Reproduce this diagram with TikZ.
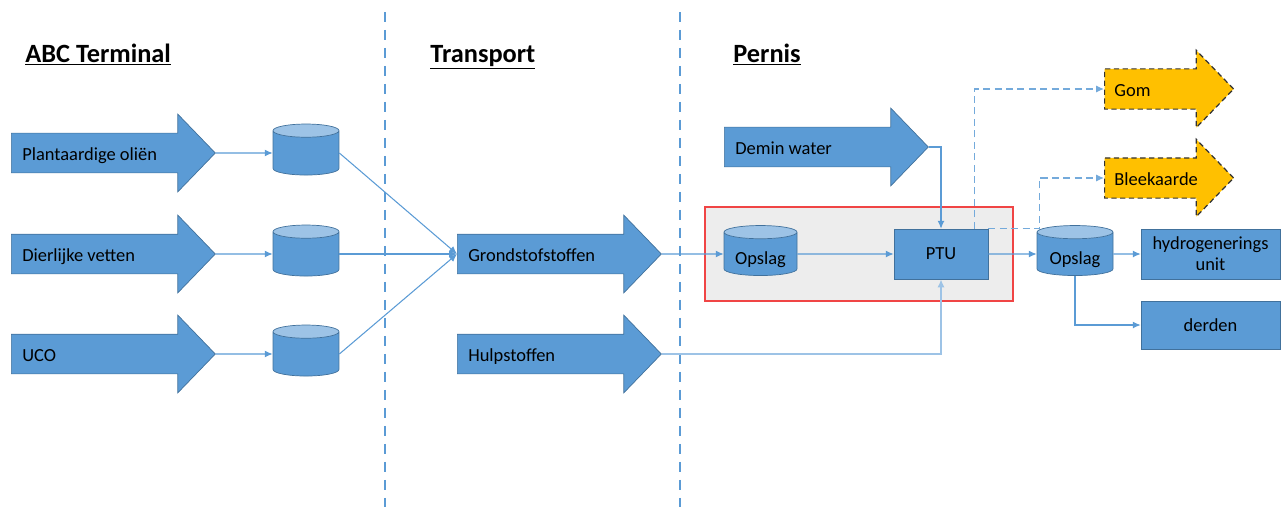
\documentclass[tikz,border=0pt]{standalone}
\usepackage{fontspec}
\setmainfont{Carlito}
\usetikzlibrary{shapes.arrows,shapes.geometric,arrows.meta}

\definecolor{flowblue}{HTML}{5B9BD5}
\definecolor{flowedge}{HTML}{41719C}
\definecolor{flowlight}{HTML}{9DC3E6}
\definecolor{flowgold}{HTML}{FFC000}
\definecolor{boxgray}{HTML}{EDEDED}
\definecolor{boxred}{HTML}{F04545}

\tikzset{
  header/.style={anchor=base west, inner sep=0pt, font=\fontsize{15}{18}\selectfont\bfseries},
  bigarrow/.style={single arrow, draw=flowedge, fill=flowblue, line width=0.4pt,
    single arrow head extend=0.38cm, single arrow tip angle=92,
    minimum width=1.54cm, minimum height=4.08cm, text width=3.26cm, align=flush left,
    inner xsep=0.04cm, inner ysep=6.5pt, text height=8.6pt, text depth=0.6pt, anchor=tail},
  sidearrow/.style={bigarrow, draw=black!80, fill=flowgold, line width=0.7pt,
    dash pattern=on 3pt off 2pt, single arrow head extend=0.37cm,
    minimum width=1.5cm, minimum height=2.58cm, text width=1.8cm},
  tank/.style={cylinder, shape border rotate=90, aspect=0.22, draw=flowedge,
    cylinder uses custom fill, cylinder body fill=flowblue, cylinder end fill=flowlight,
    line width=0.4pt, inner sep=0pt, text width=1.2cm, text height=14pt, align=flush center},
  unitbox/.style={rectangle, draw=flowedge, fill=flowblue, line width=0.4pt,
    align=flush center, inner sep=0pt},
  conn/.style={->, flowblue, line width=0.6pt},
  dashconn/.style={conn, flowblue!85, dash pattern=on 4pt off 2.5pt},
  divider/.style={flowblue, line width=1.2pt, dash pattern=on 0.2cm off 0.16cm}
}

\begin{document}
\begin{tikzpicture}[x=0.02cm,y=-0.02cm,>={Latex[length=4.5pt,width=4pt]},
    font=\fontsize{10.5}{12}\selectfont]
  \useasboundingbox (0,0) rectangle (1284,507);

  % section headers
  \node[header] (habc) at (25,62) {\underline{ABC Terminal}};
  \node[header] (htrans) at (430,62) {\underline{Transport}};
  \node[header] (hpernis) at (733,62) {\underline{Pernis}};

  % dashed dividers
  \draw[divider] (385,12) -- (385,507);
  \draw[divider] (680,12) -- (680,507);

  % transport arrows
  \node[bigarrow] (grond) at (457,254) {Grondstofstoffen};
  \node[bigarrow] (hulp) at (457,354) {Hulpstoffen};

  % raw materials into the tanks
  \foreach \y/\name/\txt in {153/plant/Plantaardige oliën,254/dier/Dierlijke vetten,354/uco/UCO} {
    \node[bigarrow] (\name) at (11,\y) {\txt};
    \node[tank, minimum width=1.32cm, minimum height=1.02cm] (t\name) at (306,\y) {};
    \draw[conn] (\name.tip) -- (t\name);
    \draw[conn] (t\name.0) -- (grond.tail);
  }

  % pretreatment area
  \node[draw=boxred, fill=boxgray, line width=0.8pt, minimum width=6.16cm,
    minimum height=1.88cm, inner sep=0pt] (area) at (859,254) {};
  \node[tank, minimum width=1.46cm, minimum height=1.0cm] (opslaga) at (760.5,254) {Opslag};
  \node[unitbox, minimum width=1.88cm, minimum height=1.0cm] (ptu) at (941,254) {PTU};

  % pernis inputs and outputs
  \node[bigarrow] (demin) at (724,147) {Demin water};
  \node[sidearrow] (gom) at (1104,89) {Gom};
  \node[sidearrow] (bleek) at (1104,178) {Bleekaarde};
  \node[tank, minimum width=1.52cm, minimum height=1.0cm] (opslagb) at (1075,254) {Opslag};
  \node[unitbox, minimum width=2.78cm, minimum height=1.0cm] (hydro) at (1210.5,254) {hydrogenerings\\unit};
  \node[unitbox, minimum width=2.78cm, minimum height=0.96cm] (derden) at (1210.5,325) {derden};

  % connectors
  \draw[conn] (grond.tip) -- (opslaga);
  \draw[conn] (opslaga) -- (ptu);
  \draw[conn] (ptu) -- (opslagb);
  \draw[conn] (opslagb) -- (hydro);
  \draw[conn] (opslagb.270) |- (derden);
  \draw[conn] (demin.tip) -| (ptu);
  \draw[conn, flowlight, line width=1pt] (hulp.tip) -| (ptu);
  \draw[dashconn] ([xshift=-0.28cm]ptu.north east) |- (gom.tail);
  \draw[dashconn] (ptu.north east) -- ++(51,0) |- (bleek.tail);
\end{tikzpicture}
\end{document}
